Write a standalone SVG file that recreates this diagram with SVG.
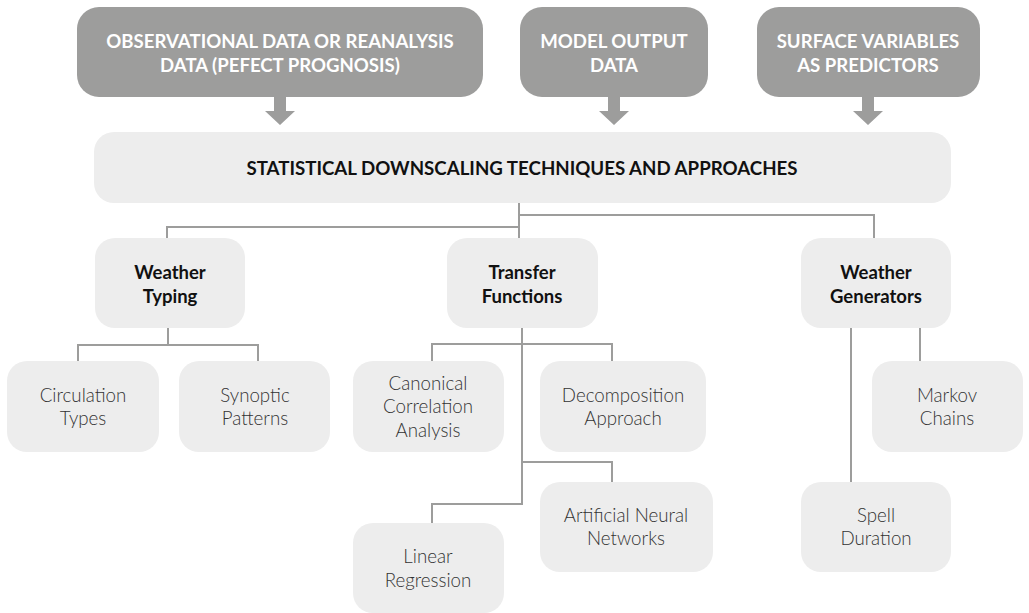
<svg xmlns="http://www.w3.org/2000/svg" width="1029" height="613" viewBox="0 0 1029 613">
<defs>
<style>
.src{fill:#9d9d9c}
.srct{fill:#ffffff;font-family:Lato,"Liberation Sans",sans-serif;font-weight:700;font-size:18.6px;text-anchor:middle}
.main{fill:#ededed}
.maint{fill:#111111;font-family:Lato,"Liberation Sans",sans-serif;font-weight:700;font-size:18.7px;text-anchor:middle}
.cat{fill:#ededed}
.catt{fill:#111111;font-family:Lato,"Liberation Sans",sans-serif;font-weight:700;font-size:18.5px;text-anchor:middle}
.leaf{fill:#ededed}
.leaft{fill:#333333;font-family:Lato,"Liberation Sans",sans-serif;font-weight:300;font-size:18.7px;text-anchor:middle}
.conn{fill:none;stroke:#9d9d9c;stroke-width:2}
</style>
</defs>
<rect width="1029" height="613" fill="#ffffff"/>
<g id="src-observational">
<rect class="src" x="77" y="7" width="406" height="90" rx="22"/>
<text class="srct" x="280" y="48">OBSERVATIONAL DATA OR REANALYSIS</text>
<text class="srct" x="280" y="72">DATA (PEFECT PROGNOSIS)</text>
</g>
<g id="src-model">
<rect class="src" x="520" y="7" width="188" height="90" rx="22"/>
<text class="srct" x="614" y="48">MODEL OUTPUT</text>
<text class="srct" x="614" y="72">DATA</text>
</g>
<g id="src-surface">
<rect class="src" x="757" y="7" width="223" height="90" rx="22"/>
<text class="srct" x="868" y="48">SURFACE VARIABLES</text>
<text class="srct" x="868" y="72">AS PREDICTORS</text>
</g>
<g id="main">
<rect class="main" x="94" y="132" width="857" height="71" rx="20"/>
<text class="maint" x="522" y="175">STATISTICAL DOWNSCALING TECHNIQUES AND APPROACHES</text>
</g>
<g id="weather-typing">
<rect class="cat" x="95" y="238" width="150" height="90" rx="20"/>
<text class="catt" x="170" y="279">Weather</text>
<text class="catt" x="170" y="303">Typing</text>
</g>
<g id="transfer-functions">
<rect class="cat" x="447" y="238" width="151" height="90" rx="20"/>
<text class="catt" x="522" y="279">Transfer</text>
<text class="catt" x="522" y="303">Functions</text>
</g>
<g id="weather-generators">
<rect class="cat" x="801" y="238" width="150" height="90" rx="20"/>
<text class="catt" x="876" y="279">Weather</text>
<text class="catt" x="876" y="303">Generators</text>
</g>
<g id="circulation-types">
<rect class="leaf" x="7" y="361" width="152" height="91" rx="20"/>
<text class="leaft" x="83" y="402">Circulation</text>
<text class="leaft" x="83" y="425">Types</text>
</g>
<g id="synoptic-patterns">
<rect class="leaf" x="179" y="361" width="151" height="91" rx="20"/>
<text class="leaft" x="255" y="402">Synoptic</text>
<text class="leaft" x="255" y="425">Patterns</text>
</g>
<g id="canonical-correlation">
<rect class="leaf" x="353" y="361" width="151" height="91" rx="20"/>
<text class="leaft" x="428" y="390">Canonical</text>
<text class="leaft" x="428" y="413">Correlation</text>
<text class="leaft" x="428" y="437">Analysis</text>
</g>
<g id="decomposition">
<rect class="leaf" x="540" y="361" width="166" height="91" rx="20"/>
<text class="leaft" x="623" y="402">Decomposition</text>
<text class="leaft" x="623" y="425">Approach</text>
</g>
<g id="ann">
<rect class="leaf" x="540" y="482" width="173" height="90" rx="20"/>
<text class="leaft" x="626" y="522">Artificial Neural</text>
<text class="leaft" x="626" y="545">Networks</text>
</g>
<g id="linear-regression">
<rect class="leaf" x="353" y="523" width="151" height="90" rx="20"/>
<text class="leaft" x="428" y="563">Linear</text>
<text class="leaft" x="428" y="587">Regression</text>
</g>
<g id="markov-chains">
<rect class="leaf" x="872" y="361" width="151" height="91" rx="20"/>
<text class="leaft" x="947" y="402">Markov</text>
<text class="leaft" x="947" y="425">Chains</text>
</g>
<g id="spell-duration">
<rect class="leaf" x="801" y="482" width="150" height="90" rx="20"/>
<text class="leaft" x="876" y="522">Spell</text>
<text class="leaft" x="876" y="545">Duration</text>
</g>
<g id="connectors">
<g class="src">
<path d="M274 97H286V111H295L280 125L265 111H274Z"/>
<path d="M608 97H620V111H629L614 125L599 111H608Z"/>
<path d="M862 97H874V111H883L868 125L853 111H862Z"/>
</g>
<path class="conn" d="M519 203V238"/>
<path class="conn" d="M519 215H874V238"/>
<path class="conn" d="M519 227H167V238"/>
<path class="conn" d="M168 328V345M78 361V345H258V361"/>
<path class="conn" d="M522 328V504H432V523"/>
<path class="conn" d="M432 361V344H612V361"/>
<path class="conn" d="M522 462H612V482"/>
<path class="conn" d="M920 328V361"/>
<path class="conn" d="M851 328V482"/>
</g>
</svg>
